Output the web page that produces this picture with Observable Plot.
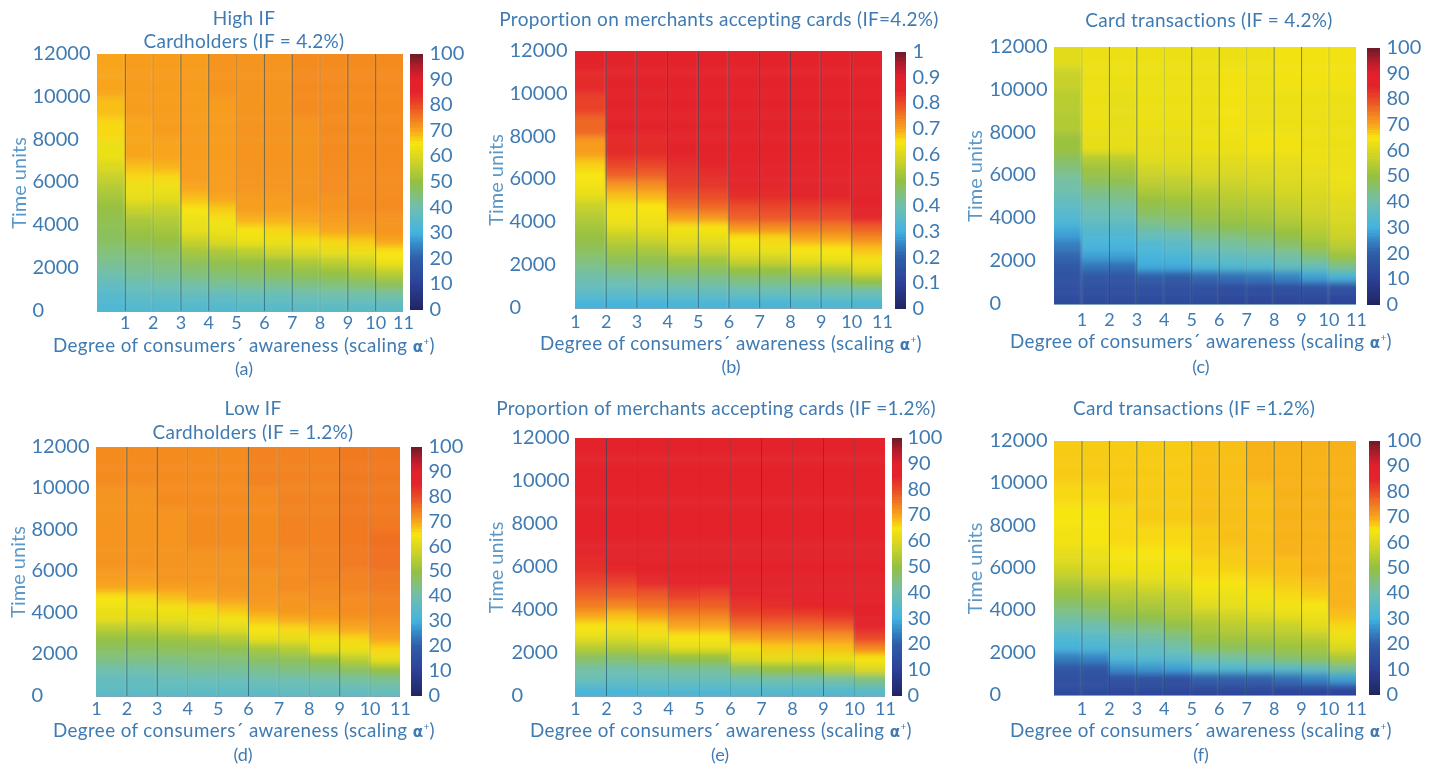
<!DOCTYPE html>
<html>
<head>
<meta charset="utf-8">
<script src="https://cdn.jsdelivr.net/npm/d3@7"></script>
<script src="https://cdn.jsdelivr.net/npm/@observablehq/plot@0.6"></script>
<style>
html,body{margin:0;padding:0;background:#fff;}
#page{position:relative;width:1434px;height:764px;overflow:hidden;font-family:Lato,"Open Sans",sans-serif;font-weight:400;color:#3f7bb2;filter:blur(0.3px);}
#page svg{position:absolute;overflow:visible;}
.t{position:absolute;white-space:nowrap;transform:translate(-50%,-50%);color:#3f7bb2;line-height:0.8;}
</style>
</head>
<body>
<svg width="0" height="0" style="position:absolute"><defs>
<filter id="soft" color-interpolation-filters="sRGB"><feGaussianBlur stdDeviation="1 3.6"/></filter>
</defs></svg>
<div id="page"></div>
<script>
// Time bands (edges): each value in a column covers one band
const timeEdges = [0,500,1000,1500,2000,2500,3000,3500,4000,4500,5000,5500,6000,6500,7000,8000,9000,10000,11000,12000];
const xTicks = [1,2,3,4,5,6,7,8,9,10,11];
const yTicks = [0,2000,4000,6000,8000,10000,12000];
const barTicks = [0,10,20,30,40,50,60,70,80,90,100];
const barLevels = d3.range(0,100);

const colorStops = [0,10,20,25,30,40,50,55,60,65,70,75,80,85,90,95,100];
const colorValues = ["#1f2560","#2c3f96","#2f5da8","#3484c4","#42b3e0","#6fbfae","#94c042","#b9cc30","#dcd81f","#f7e50f","#f8a51c","#f17a21","#ea4a27","#e3232a","#e4202c","#b31c2c","#6c1b26"];

const panelA = [
 [33,34,37,40,43,45,47,48,49,50,52,54,57,60,63,66,68,70,70],
 [34,36,39,42,44,46,49,51,53,57,62,63,66,68,70,70,71,71,71],
 [34,36,40,43,45,47,50,52,54,57,61,63,66,69,70,71,71,71,71],
 [34,37,41,45,48,52,57,62,63,65,68,70,71,71,71,71,71,71,71],
 [34,37,42,46,49,53,60,63,64,67,70,71,71,71,71,71,71,72,72],
 [35,38,43,47,50,55,63,65,69,71,71,72,72,72,72,72,72,72,72],
 [35,38,43,48,51,58,63,66,69,71,71,72,72,72,72,72,72,72,72],
 [36,39,44,49,53,60,64,68,70,71,72,72,72,72,72,72,73,73,73],
 [36,40,45,50,55,62,66,70,71,72,72,73,73,73,73,73,73,73,73],
 [36,40,46,52,58,63,67,71,72,73,73,73,73,73,73,73,73,73,73],
 [36,41,48,55,63,65,70,72,72,73,73,73,73,73,73,73,73,73,73]
];
const panelB = [
 [31,36,39,42,45,48,50,52,54,57,62,64,65,67,71,77,81,84,85],
 [31,36,40,44,48,52,56,61,64,64,68,72,78,81,84,85,85,85,85],
 [31,37,41,45,49,53,58,62,64,65,69,73,78,81,84,85,85,86,86],
 [32,37,42,47,52,58,62,64,71,76,79,82,83,84,85,85,86,86,86],
 [32,37,42,47,52,58,62,65,72,77,80,83,84,85,85,85,86,86,86],
 [32,38,44,50,58,63,65,72,78,80,84,85,85,85,86,86,86,86,86],
 [32,38,44,50,58,63,66,73,79,81,84,85,85,86,86,86,86,86,86],
 [33,39,46,54,62,65,70,75,80,82,85,85,86,86,86,86,86,86,86],
 [33,39,46,54,63,65,70,75,80,82,85,85,86,86,86,86,86,86,86],
 [33,39,50,60,64,68,73,78,85,85,86,86,86,86,86,86,86,86,86]
];
const panelC = [
 [14,15,16,18,21,24,28,32,34,37,40,41,44,47,51,54,55,57,61],
 [14,15,17,23,28,31,33,36,39,41,44,48,51,54,62,63,63,63,63],
 [14,15,17,22,28,31,33,36,39,42,45,49,52,55,62,62,62,63,63],
 [14,15,19,29,31,33,38,43,47,50,53,56,58,61,62,63,63,63,63],
 [14,15,18,29,32,35,39,45,48,51,54,56,59,61,62,63,63,63,63],
 [14,15,21,32,36,40,44,48,51,53,55,58,60,61,63,63,63,63,63],
 [13,14,22,33,37,41,45,50,52,54,56,58,60,61,63,64,64,64,63],
 [13,14,23,34,38,43,47,51,53,55,57,59,60,62,64,63,63,63,63],
 [13,14,25,37,41,46,50,53,55,57,59,60,61,62,64,63,63,64,64],
 [13,15,28,38,45,51,54,56,58,59,60,61,62,63,63,63,63,64,64],
 [12,15,31,43,51,55,58,59,60,61,62,63,63,63,63,63,63,64,64]
];
const panelD = [
 [36,37,40,44,47,50,55,62,63,65,70,71,72,72,72,72,72,73,73],
 [36,37,40,44,47,50,55,61,63,66,70,71,72,72,72,72,72,73,73],
 [36,38,41,44,48,51,57,62,64,68,71,72,72,72,72,72,73,73,73],
 [36,38,42,45,48,52,60,63,66,70,71,72,72,72,73,73,73,73,73],
 [36,38,42,45,49,54,61,64,68,71,72,72,72,72,73,73,73,73,73],
 [36,39,43,47,52,62,65,68,71,72,72,72,73,73,73,73,73,74,74],
 [37,39,44,48,54,62,66,70,72,72,73,73,73,73,74,74,74,74,74],
 [37,40,45,50,62,64,68,71,72,73,73,74,74,74,74,74,74,74,74],
 [37,41,47,55,63,66,70,72,73,73,74,74,75,75,75,75,75,75,75],
 [38,42,50,62,66,70,72,73,74,74,75,75,76,76,76,75,75,75,75]
];
const panelE = [
 [32,38,41,47,55,62,65,70,75,78,81,83,84,85,86,86,86,86,87],
 [32,37,40,46,54,60,64,68,74,78,81,84,85,85,86,86,86,86,87],
 [33,38,41,48,56,63,66,71,76,79,84,85,85,86,86,86,86,86,87],
 [33,38,42,50,62,65,70,74,78,82,85,85,86,86,86,86,86,86,87],
 [33,38,42,50,62,65,70,74,78,81,85,85,86,86,86,86,86,86,87],
 [34,39,47,60,64,70,76,80,83,85,86,86,86,86,86,86,86,86,87],
 [34,40,50,62,67,72,77,81,84,85,86,86,86,86,86,86,86,86,87],
 [34,40,50,62,67,72,77,81,85,86,86,86,86,86,86,86,86,86,87],
 [34,41,55,63,68,72,78,83,85,86,86,86,86,86,86,86,86,86,87],
 [35,44,60,65,74,81,85,86,86,86,86,86,86,86,86,86,86,86,87]
];
const panelF = [
 [14,15,17,24,31,33,38,42,46,50,53,57,60,62,64,65,66,67,67],
 [14,15,17,25,32,35,39,44,48,52,56,60,62,63,65,65,66,67,67],
 [13,15,26,33,36,40,44,49,52,55,58,63,64,65,66,66,67,67,67],
 [13,15,27,34,37,41,45,50,53,56,60,63,64,65,66,67,67,67,67],
 [13,14,28,35,40,44,49,53,55,57,61,63,64,65,66,67,67,67,67],
 [13,20,33,40,47,51,53,56,61,63,65,66,66,67,67,68,68,68,68],
 [13,20,33,41,48,52,55,58,62,63,65,66,67,67,68,68,68,68,68],
 [13,20,34,43,49,53,56,60,63,64,66,67,68,68,68,68,68,69,69],
 [12,22,35,46,51,54,57,62,64,66,67,68,68,69,69,69,69,69,69],
 [12,25,37,48,52,56,61,63,65,67,68,69,69,69,69,69,69,69,69],
 [12,28,42,53,60,63,66,68,69,69,69,69,69,69,69,69,69,69,69]
];

const xLabelPrefix = "Degree of consumers´ awareness (scaling ";

const panels = [
 {data:panelA,start:0,frame:[97,54,403,311],bar:[410,423,54,310],leftX:32,barLabelX:429,timeX:11,tickPad:5,strong:[1,3,4,6,7,9,10],faint:[2,5,8],
  title:["High IF","Cardholders (IF = 4.2%)"],titleC:244,titleY:[18,41],xlC:244,xlY:344.5,cap:"(a)",capC:244,capY:368},
 {data:panelB,start:1,frame:[575,51,882,308],bar:[895,906,52,309],leftX:509,barLabelX:912,timeX:488,tickPad:6.5,strong:[2,3,4,5,6,7,8,9,10],faint:[],barFormat:d=>String(d/100),
  title:["Proportion on merchants accepting cards (IF=4.2%)"],titleC:719,titleY:[19],xlC:731,xlY:343,cap:"(b)",capC:731,capY:366},
 {data:panelC,start:0,frame:[1054,47,1356,304],bar:[1367,1380,48,305],leftX:989,barLabelX:1386,timeX:967,tickPad:8.5,strong:[2,3,5,6,8,9],faint:[1,4,7,10],
  title:["Card transactions (IF = 4.2%)"],titleC:1209,titleY:[20],xlC:1201,xlY:341,cap:"(c)",capC:1201,capY:366},
 {data:panelD,start:1,frame:[96,447,400,696],bar:[411,422,447,696],leftX:31,barLabelX:428,timeX:10,tickPad:5.5,strong:[2,3,6,9],faint:[4,5,7,8,10],
  title:["Low IF","Cardholders (IF = 1.2%)"],titleC:253,titleY:[408,432],xlC:244,xlY:730,cap:"(d)",capC:243,capY:754},
 {data:panelE,start:1,frame:[575,438,885,696],bar:[892,902,438,696],leftX:511,barLabelX:907,timeX:488,tickPad:5.5,strong:[2,7,9],faint:[3,4,5,6,8,10],
  title:["Proportion of merchants accepting cards (IF =1.2%)"],titleC:716,titleY:[408],xlC:721,xlY:730,cap:"(e)",capC:720,capY:754},
 {data:panelF,start:0,frame:[1054,441,1356,695],bar:[1369,1380,441,695],leftX:989,barLabelX:1386,timeX:967,tickPad:6.5,strong:[1,2,3,4,5,6,7,8,9,10],faint:[],
  title:["Card transactions (IF =1.2%)"],titleC:1194,titleY:[408],xlC:1201,xlY:730,cap:"(f)",capC:1201,capY:754}
];

const page = document.getElementById("page");
const fontStyle = {fontFamily:"Lato, 'Open Sans', sans-serif",fontWeight:400,fontSize:"20px",background:"transparent",overflow:"visible"};
const colorScale = {type:"linear",domain:colorStops,range:colorValues,clamp:true};

function place(svg,left,top){svg.style.left=left+"px";svg.style.top=top+"px";page.appendChild(svg);}
function label(html,cx,cy,size,spacing){
  const d=document.createElement("div");d.className="t";d.innerHTML=html;
  d.style.left=cx+"px";d.style.top=cy+"px";d.style.fontSize=size+"px";
  if(spacing)d.style.letterSpacing=spacing+"px";
  page.appendChild(d);
}

for(const p of panels){
  const [x0,y0,x1,y1]=p.frame;
  const xMax=p.start+p.data.length;
  const cells=[];
  p.data.forEach((col,i)=>col.forEach((v,j)=>{
    cells.push({
      a:i===0?p.start-1:p.start+i, b:i===p.data.length-1?xMax+1:p.start+i+1,
      t0:j===0?-1000:timeEdges[j], t1:j===col.length-1?14000:timeEdges[j+1], v
    });
  }));
  const mL=x0-(p.leftX-22), mT=12, mB=34, mR=6;
  const heat=Plot.plot({
    width:(x1-x0)+mL+mR,height:(y1-y0)+mT+mB,
    marginLeft:mL,marginRight:mR,marginTop:mT,marginBottom:mB,
    style:fontStyle,
    x:{domain:[p.start,xMax]},y:{domain:[0,12000]},color:colorScale,
    marks:[
      Plot.rect(cells,{x1:"a",x2:"b",y1:"t0",y2:"t1",fill:"v",clip:true,imageFilter:"url(#soft)"}),
      Plot.ruleX(p.faint,{stroke:"#1f5f70",strokeOpacity:0.22,strokeWidth:1}),
      Plot.ruleX(p.strong,{stroke:"#174a63",strokeOpacity:0.6,strokeWidth:1}),
      Plot.ruleY([0],{stroke:"#1d5a80",strokeOpacity:0.55,strokeWidth:1.2}),
      Plot.axisX({ticks:xTicks,tickFormat:d=>String(d),tickSize:0,tickPadding:p.tickPad,fontSize:18,label:null,color:"#3f7bb2",fontVariant:"normal"}),
      Plot.axisY({ticks:yTicks,tickFormat:d=>String(d),tickSize:0,tickPadding:x0-p.leftX,textAnchor:"start",dy:-1,label:null,color:"#3f7bb2",fontVariant:"normal"}),
      Plot.axisY({ticks:[],label:"Time units",labelAnchor:"center",labelArrow:"none",labelOffset:x0-p.timeX,color:"#5b98c8"})
    ]
  });
  place(heat,x0-mL,y0-mT);

  const [b0,b1,by0,by1]=p.bar;
  const bm=8;
  const barPlot=Plot.plot({
    width:(b1-b0)+44,height:(by1-by0)+2*bm,
    marginLeft:0,marginRight:44,marginTop:bm,marginBottom:bm,
    style:fontStyle,
    x:{axis:null,domain:[0,1]},y:{domain:[0,100]},color:colorScale,
    marks:[
      Plot.rect(barLevels,{x1:0,x2:1,y1:d=>d,y2:d=>d+1,fill:d=>d+0.5,shapeRendering:"crispEdges"}),
      Plot.axisY({anchor:"right",ticks:barTicks,tickFormat:p.barFormat||(d=>String(d)),tickSize:0,tickPadding:p.barLabelX-b1,dy:-1,label:null,color:"#3f7bb2",fontVariant:"normal"})
    ]
  });
  place(barPlot,b0,by0-bm);

  p.title.forEach((t,i)=>label(t,p.titleC,p.titleY[i],19,0.3));
  label(xLabelPrefix+"<b style='font-family:\"DejaVu Sans\";font-size:15px;line-height:0'>α</b><sup style='font-size:10px;line-height:0'>+</sup>)",p.xlC,p.xlY,18.8,0.4);
  label(p.cap,p.capC,p.capY,18);
}
</script>
</body>
</html>
